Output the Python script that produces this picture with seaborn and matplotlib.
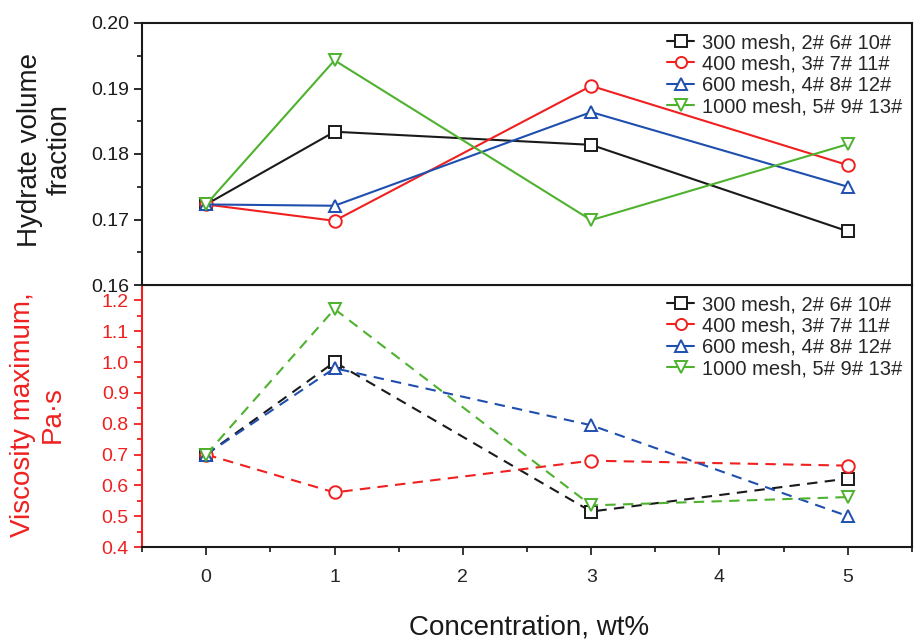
import numpy as np
import pandas as pd
import matplotlib
matplotlib.use("Agg")
import matplotlib.pyplot as plt
from matplotlib.ticker import MultipleLocator, FormatStrFormatter
from matplotlib.lines import Line2D
import seaborn as sns

sns.set_style("ticks")
plt.rcParams["font.family"] = ["Liberation Sans", "DejaVu Sans"]

# Surfactant concentration, wt%
concentration = [0, 1, 3, 5]

labels = ["300 mesh, 2# 6# 10#", "400 mesh, 3# 7# 11#",
          "600 mesh, 4# 8# 12#", "1000 mesh, 5# 9# 13#"]

# Hydrate volume fraction
hvf_300 = [0.1723, 0.1834, 0.1814, 0.1682]
hvf_400 = [0.1723, 0.1698, 0.1904, 0.1783]
hvf_600 = [0.1723, 0.1721, 0.1864, 0.1750]
hvf_1000 = [0.1723, 0.1943, 0.1699, 0.1815]

# Viscosity maximum, Pa·s
visc_300 = [0.70, 1.00, 0.515, 0.622]
visc_400 = [0.70, 0.577, 0.680, 0.664]
visc_600 = [0.70, 0.980, 0.795, 0.500]
visc_1000 = [0.70, 1.172, 0.535, 0.562]

colors = ["#1a1a1a", "#f02020", "#1f4fae", "#4eb22f"]
markers = ["s", "o", "^", "v"]

def long_frame(series):
    rows = []
    for lab, vals in zip(labels, series):
        for c, v in zip(concentration, vals):
            rows.append({"conc": c, "value": v, "mesh": lab})
    return pd.DataFrame(rows)

df_hvf = long_frame([hvf_300, hvf_400, hvf_600, hvf_1000])
df_visc = long_frame([visc_300, visc_400, visc_600, visc_1000])

palette = dict(zip(labels, colors))
marker_map = dict(zip(labels, markers))

W, H = 914, 639
fig = plt.figure(figsize=(W / 100, H / 100), dpi=100)
left, right = 142 / W, 912 / W
ax1 = fig.add_axes([left, 1 - 285 / H, right - left, (285 - 23) / H])
ax2 = fig.add_axes([left, 1 - 547 / H, right - left, (547 - 285) / H])

common = dict(x="conc", y="value", hue="mesh", style="mesh", palette=palette,
              markers=marker_map, markersize=9, markeredgewidth=1.4,
              markerfacecolor="white", linewidth=1.5, legend=False)

sns.lineplot(data=df_hvf, ax=ax1, dashes=False, **common)
sns.lineplot(data=df_visc, ax=ax2, dashes={l: (5, 3.5) for l in labels}, **common)

# Marker edge colours follow the series colours
for ax in (ax1, ax2):
    for line, col in zip(ax.get_lines(), colors):
        line.set_markeredgecolor(col)

for ax in (ax1, ax2):
    ax.set_xlim(-0.5, 5.5)
    for s in ax.spines.values():
        s.set_linewidth(1.5)
        s.set_color("#1a1a1a")
    ax.tick_params(axis="both", which="both", direction="out", labelsize=14,
                   width=1.3)
    ax.tick_params(which="major", length=6)
    ax.tick_params(which="minor", length=3.5)
    ax.set_xlabel("")
    ax.set_ylabel("")

ax1.set_ylim(0.16, 0.20)
ax1.yaxis.set_major_locator(MultipleLocator(0.01))
ax1.yaxis.set_minor_locator(MultipleLocator(0.005))
ax1.yaxis.set_major_formatter(FormatStrFormatter("%.2f"))
ax1.tick_params(axis="x", which="both", bottom=False, labelbottom=False)
ax1.tick_params(axis="y", colors="#1a1a1a", labelcolor="#1a1a1a")

red = "#f02020"
ax2.set_ylim(0.4, 1.25)
ax2.set_yticks(np.arange(0.4, 1.21, 0.1))
ax2.set_yticks(np.arange(0.45, 1.21, 0.1), minor=True)
ax2.yaxis.set_major_formatter(FormatStrFormatter("%.1f"))
ax2.xaxis.set_major_locator(MultipleLocator(1))
ax2.xaxis.set_minor_locator(MultipleLocator(0.5))
ax2.spines["left"].set_color(red)
ax2.tick_params(axis="y", which="both", colors=red, labelcolor=red)
ax2.tick_params(axis="x", which="major", pad=10)
ax1.set_zorder(1)

fig.text(45 / W, 1 - 150 / H, "Hydrate volume\nfraction", rotation=90,
         ha="center", va="center", fontsize=20, color="#1a1a1a",
         linespacing=1.2)
fig.text(38 / W, 1 - 415 / H, "Viscosity maximum,\nPa·s", rotation=90,
         ha="center", va="center", fontsize=20, color=red,
         linespacing=1.2)
fig.text(529 / W, 1 - 627 / H, "Concentration, wt%", ha="center",
         va="center", fontsize=20, color="#1a1a1a")

def add_legend(ax):
    handles = [Line2D([], [], color=c, marker=m, markersize=8,
                      markerfacecolor="white", markeredgecolor=c,
                      markeredgewidth=1.4, linewidth=1.5, linestyle="-")
               for c, m in zip(colors, markers)]
    ax.legend(handles, labels, loc="upper right", frameon=False,
              fontsize=14.5, handlelength=1.3, handletextpad=0.4,
              labelspacing=0.12, borderaxespad=0.1,
              bbox_to_anchor=(1.0, 1.0))

add_legend(ax1)
add_legend(ax2)

fig.savefig("out.png", dpi=100)
